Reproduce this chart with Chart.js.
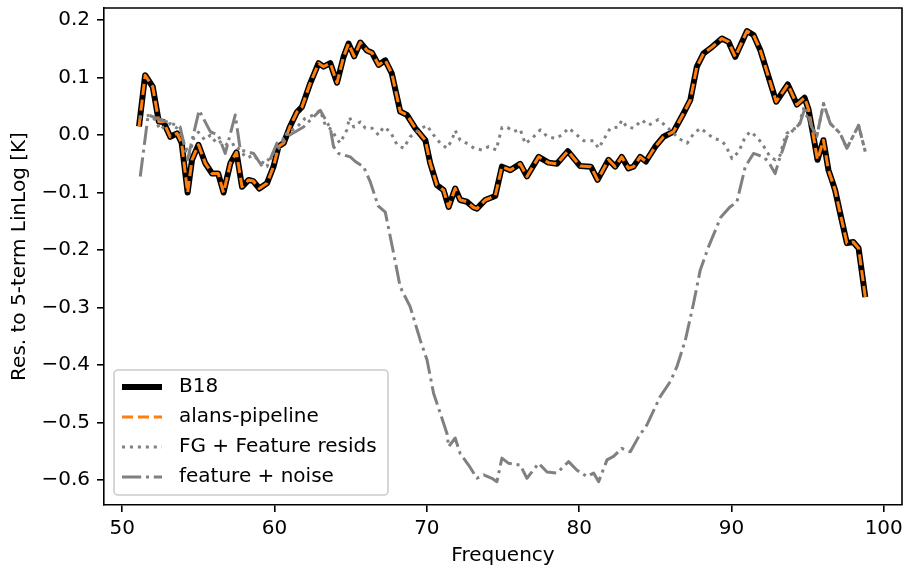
<!DOCTYPE html>
<html lang="en">
<head>
  <meta charset="UTF-8" />
  <title>Residuals to 5-term LinLog</title>
  <script src="https://cdn.jsdelivr.net/npm/chart.js"></script>
  <style>
    body { margin: 0; background: #fff; }
    canvas { display: block; }
  </style>
</head>
<body>
  <canvas id="resChart" width="906" height="574"></canvas>

  <script>
    // values (frequency in MHz, residual in K)
    const b18Freq = [51.1, 51.5, 52.0, 52.4, 52.7, 53.15, 53.6, 53.9, 54.29, 54.58, 55.0, 55.45, 55.9, 56.3,
      56.65, 57.1, 57.5, 57.86, 58.3, 58.6, 59.0, 59.5, 59.93, 60.26, 60.6, 61.0, 61.47, 61.8, 62.34, 62.89,
      63.22, 63.66, 64.1, 64.53, 64.86, 65.23, 65.63, 66.07, 66.4, 66.83, 67.27, 67.7, 68.25, 68.69, 69.24,
      69.9, 70.22, 70.66, 71.1, 71.43, 71.86, 72.19, 72.63, 73.07, 73.29, 73.83, 74.49, 74.93, 75.48, 76.13,
      76.57, 77.34, 77.99, 78.54, 79.26, 80.07, 80.77, 81.21, 81.93, 82.37, 82.8, 83.24, 83.57, 84.01, 84.38,
      85.0, 85.54, 86.2, 86.86, 87.3, 87.73, 88.17, 88.72, 89.37, 89.81, 90.25, 91.02, 91.45, 91.89, 92.44,
      92.94, 93.7, 94.3, 94.8, 95.06, 95.39, 95.65, 96.04, 96.37, 96.59, 96.81, 97.14, 97.58, 98.0, 98.35, 98.79];
    const b18Vals = [0.015, 0.104, 0.084, 0.023, 0.023, -0.003, 0.003, -0.014, -0.100, -0.043, -0.017, -0.049,
      -0.067, -0.067, -0.100, -0.049, -0.030, -0.090, -0.078, -0.080, -0.093, -0.084, -0.055, -0.020, -0.014,
      0.014, 0.040, 0.049, 0.090, 0.125, 0.119, 0.125, 0.091, 0.136, 0.159, 0.137, 0.161, 0.147, 0.143, 0.122,
      0.130, 0.107, 0.041, 0.035, 0.012, -0.009, -0.049, -0.087, -0.096, -0.125, -0.093, -0.113, -0.116, -0.126,
      -0.128, -0.113, -0.106, -0.055, -0.061, -0.050, -0.072, -0.038, -0.048, -0.050, -0.028, -0.054, -0.055,
      -0.078, -0.043, -0.055, -0.038, -0.058, -0.055, -0.038, -0.046, -0.020, -0.003, 0.006, 0.038, 0.061,
      0.119, 0.142, 0.153, 0.168, 0.162, 0.136, 0.181, 0.174, 0.148, 0.101, 0.058, 0.088, 0.053, 0.065, 0.045,
      -0.003, -0.043, -0.009, -0.061, -0.078, -0.096, -0.136, -0.188, -0.186, -0.197, -0.282];

    // the alans-pipeline curve sits exactly on top of B18
    const alansFreq = b18Freq;
    const alansVals = b18Vals;

    const residFreq = [51.1, 51.84, 52.17, 52.5, 52.7, 53.15, 53.6, 53.9, 54.14, 54.4, 54.7, 55.0, 55.4, 55.8,
      56.2, 56.6, 57.0, 57.4, 57.8, 58.2, 58.6, 59.0, 59.4, 59.8, 60.4, 60.8, 61.47, 62.0, 62.56, 63.0, 63.33,
      63.77, 64.0, 64.3, 64.75, 64.92, 65.2, 65.63, 65.96, 66.4, 66.83, 67.15, 67.6, 68.04, 68.47, 68.91, 69.46,
      70.0, 70.44, 70.88, 71.32, 71.64, 71.86, 72.19, 72.74, 73.1, 73.62, 74.06, 74.55, 74.93, 75.3, 75.7,
      76.13, 76.46, 76.9, 77.45, 77.89, 78.43, 78.87, 79.31, 79.86, 80.3, 80.95, 81.28, 81.72, 82.04, 82.59,
      82.8, 83.13, 83.57, 84.12, 84.56, 85.2, 85.64, 86.2, 86.54, 87.1, 87.53, 87.97, 88.4, 88.85, 89.27, 89.6,
      90.04, 90.48, 90.91, 91.24, 91.6, 92.0, 92.33, 92.55, 92.87, 93.2, 93.4, 93.64, 93.97, 94.4, 94.73,
      95.28, 95.6, 96.05, 96.49, 97.14, 97.58, 98.35, 98.79];
    const residVals = [0.030, 0.035, 0.026, 0.009, 0.014, 0.020, 0.012, -0.003, -0.020, -0.035, -0.005, 0.005,
      -0.008, 0.000, -0.015, -0.010, -0.020, -0.015, -0.030, -0.040, -0.035, -0.045, -0.050, -0.035, -0.020,
      0.003, 0.014, 0.029, 0.035, 0.043, 0.017, 0.009, -0.003, -0.014, 0.009, 0.031, 0.014, 0.023, 0.012,
      0.012, 0.000, 0.014, 0.006, -0.017, -0.023, -0.003, 0.009, 0.017, 0.000, -0.014, -0.023, -0.009, 0.008,
      -0.009, -0.016, -0.023, -0.026, -0.020, -0.026, 0.013, 0.013, 0.006, 0.010, -0.015, -0.006, 0.009,
      -0.002, -0.006, 0.000, 0.012, 0.000, -0.010, -0.010, -0.023, -0.003, 0.012, 0.014, 0.026, 0.014, 0.012,
      0.026, 0.017, 0.027, 0.017, 0.003, -0.006, -0.014, 0.003, 0.012, 0.003, -0.006, -0.009, -0.017, -0.041,
      -0.029, -0.003, 0.006, -0.002, -0.014, -0.029, -0.038, -0.043, -0.035, -0.014, 0.003, 0.009, 0.014,
      0.046, 0.014, -0.003, 0.055, 0.020, 0.003, -0.023, 0.017, -0.029];

    const featFreq = [51.18, 51.7, 52.2, 52.6, 53.26, 53.8, 54.29, 54.58, 55.05, 55.78, 56.3, 56.76, 57.42,
      57.75, 58.62, 59.2, 59.5, 60.16, 60.8, 61.9, 62.5, 63.0, 63.66, 63.87, 64.2, 64.97, 65.3, 65.84, 66.28,
      66.8, 67.27, 67.82, 68.25, 68.91, 69.57, 70.01, 70.44, 70.88, 71.32, 71.43, 71.86, 72.19, 72.74, 73.29,
      73.73, 74.27, 74.6, 74.93, 75.37, 76.13, 76.57, 77.34, 77.89, 78.54, 79.31, 79.86, 80.51, 80.95, 81.28,
      81.83, 82.26, 82.8, 83.36, 83.9, 84.45, 85.32, 85.98, 86.42, 86.97, 87.51, 87.95, 88.5, 89.3, 89.87,
      90.36, 90.91, 91.45, 91.78, 92.2, 92.55, 92.87, 93.1, 93.4, 93.64, 94.07, 94.5, 94.85, 95.28, 95.6,
      96.05, 96.49, 97.14, 97.58, 98.35, 98.79];
    const featVals = [-0.072, 0.035, 0.030, 0.026, 0.020, 0.014, -0.043, -0.009, 0.043, 0.006, 0.000, -0.032,
      0.035, -0.026, -0.032, -0.055, -0.055, -0.014, -0.003, 0.014, 0.030, 0.043, 0.012, -0.020, -0.032,
      -0.038, -0.046, -0.055, -0.081, -0.123, -0.134, -0.206, -0.264, -0.299, -0.357, -0.391, -0.449, -0.484,
      -0.519, -0.542, -0.527, -0.554, -0.574, -0.597, -0.591, -0.597, -0.603, -0.562, -0.571, -0.574, -0.597,
      -0.571, -0.586, -0.588, -0.568, -0.583, -0.594, -0.588, -0.603, -0.565, -0.559, -0.545, -0.551, -0.525,
      -0.504, -0.455, -0.429, -0.403, -0.357, -0.293, -0.235, -0.194, -0.143, -0.126, -0.116, -0.055, -0.032,
      -0.035, -0.040, -0.052, -0.067, -0.046, -0.023, -0.003, 0.009, 0.020, 0.049, 0.014, -0.003, 0.055,
      0.020, 0.003, -0.023, 0.017, -0.029];

    const xTicks = [50, 60, 70, 80, 90, 100];
    const yTicks = [-0.6, -0.5, -0.4, -0.3, -0.2, -0.1, 0.0, 0.1, 0.2];

    const FONT = "'DejaVu Sans', sans-serif";

    function pts(xs, ys) {
      return xs.map((x, i) => ({ x: x, y: ys[i] }));
    }

    function fmtY(v) {
      const s = Math.abs(v).toFixed(1);
      return v < -1e-9 ? '\u2212' + s : s;
    }

    // top/right spines + legend box drawn the matplotlib way
    const framePlugin = {
      id: 'frame',
      afterDatasetsDraw(chart) {
        const { ctx, chartArea: a } = chart;
        ctx.save();
        ctx.strokeStyle = '#000';
        ctx.lineWidth = 1.6;
        ctx.beginPath();
        ctx.moveTo(a.left, a.top);
        ctx.lineTo(a.right, a.top);
        ctx.lineTo(a.right, a.bottom);
        ctx.stroke();

        // legend
        const bx = 114, by = 370, bw = 274, bh = 125;
        ctx.beginPath();
        ctx.roundRect(bx, by, bw, bh, 4);
        ctx.fillStyle = 'rgba(255,255,255,0.8)';
        ctx.fill();
        ctx.strokeStyle = '#cccccc';
        ctx.lineWidth = 1.6;
        ctx.stroke();

        ctx.font = '20px ' + FONT;
        ctx.textBaseline = 'middle';
        ctx.textAlign = 'left';
        chart.data.datasets.forEach((ds, i) => {
          const y = 387 + i * 30;
          ctx.beginPath();
          ctx.setLineDash(ds.borderDash || []);
          ctx.strokeStyle = ds.borderColor;
          ctx.lineWidth = ds.borderWidth;
          ctx.lineCap = 'butt';
          ctx.moveTo(122, y);
          ctx.lineTo(162, y);
          ctx.stroke();
          ctx.setLineDash([]);
          ctx.fillStyle = '#000';
          ctx.fillText(ds.label, 179, y);
        });
        ctx.restore();
      }
    };

    new Chart(document.getElementById('resChart'), {
      type: 'line',
      data: {
        datasets: [
          { label: 'B18', data: pts(b18Freq, b18Vals), borderColor: '#000000', borderWidth: 6, order: 4 },
          { label: 'alans-pipeline', data: pts(alansFreq, alansVals), borderColor: '#ff7f0e', borderWidth: 3,
            borderDash: [11.1, 4.8], order: 3 },
          { label: 'FG + Feature resids', data: pts(residFreq, residVals), borderColor: '#808080', borderWidth: 3,
            borderDash: [3, 4.95], order: 2 },
          { label: 'feature + noise', data: pts(featFreq, featVals), borderColor: '#808080', borderWidth: 3,
            borderDash: [19.2, 4.8, 3, 4.8], order: 1 }
        ]
      },
      options: {
        responsive: false,
        animation: false,
        devicePixelRatio: 1,
        layout: { padding: { left: 0, right: 4, top: 8, bottom: 0 } },
        elements: {
          point: { radius: 0, hoverRadius: 0 },
          line: { tension: 0, borderJoinStyle: 'round', fill: false }
        },
        plugins: { legend: { display: false }, tooltip: { enabled: false } },
        scales: {
          x: {
            type: 'linear',
            min: 48.8,
            max: 101.2,
            afterFit(scale) {
              scale.height = 69;
              scale.paddingLeft = 0;
              scale.paddingRight = 0;
            },
            afterBuildTicks(scale) { scale.ticks = xTicks.map(v => ({ value: v })); },
            grid: { drawOnChartArea: false, drawTicks: true, tickLength: 7, lineWidth: 1.6, color: '#000' },
            border: { display: true, color: '#000', width: 1.6 },
            ticks: { color: '#000', font: { family: FONT, size: 20 }, padding: 5, maxRotation: 0,
              callback: v => String(v) },
            title: { display: true, text: 'Frequency', color: '#000', font: { family: FONT, size: 20 },
              padding: { top: 0, bottom: 6 } }
          },
          y: {
            min: -0.6435,
            max: 0.221,
            afterFit(scale) {
              scale.width = 104;
              scale.paddingTop = 0;
              scale.paddingBottom = 0;
            },
            afterBuildTicks(scale) { scale.ticks = yTicks.map(v => ({ value: v })); },
            grid: { drawOnChartArea: false, drawTicks: true, tickLength: 7, lineWidth: 1.6, color: '#000' },
            border: { display: true, color: '#000', width: 1.6 },
            ticks: { color: '#000', font: { family: FONT, size: 20 }, padding: 7, callback: v => fmtY(v) },
            title: { display: true, text: 'Res. to 5-term LinLog [K]', color: '#000',
              font: { family: FONT, size: 20 }, padding: { top: 8, bottom: 0 } }
          }
        }
      },
      plugins: [framePlugin]
    });
  </script>
</body>
</html>
